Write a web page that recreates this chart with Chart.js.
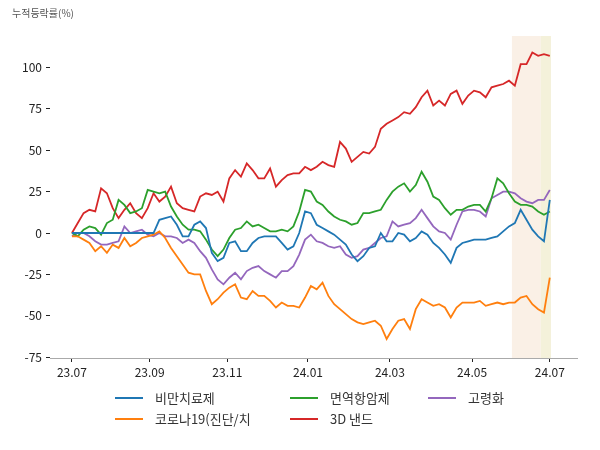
<!DOCTYPE html>
<html>
<head>
<meta charset="utf-8">
<script src="https://cdn.jsdelivr.net/npm/chart.js@4/dist/chart.umd.min.js"></script>
<style>
  body { margin: 0; background: #fff; font-family: "Noto Sans CJK KR", "Noto Sans", sans-serif; }
  #wrap { position: relative; width: 600px; height: 450px; }
  #title { position: absolute; left: 12px; top: 5px; font-size: 10px; color: #555; }
  .leg { position: absolute; font-size: 13px; color: #333; line-height: 16px; white-space: nowrap; }
  .leg i { display: inline-block; width: 28px; height: 2px; vertical-align: middle; margin-right: 12px; position: relative; top: -1px; }
</style>
</head>
<body>
<div id="wrap">
  <canvas id="chart" width="600" height="450"></canvas>
  <div id="title">누적등락률(%)</div>
  <div id="legend"></div>
</div>
<script>
// trading days since 2023-07 start (x axis)
const days = [0,3,6,9,12,15,18,21,24,27,30,33,36,39,42,45,48,51,54,57,60,63,66,69,72,75,78,81,84,87,90,93,96,99,102,105,108,111,114,117,120,123,126,129,132,135,138,141,144,147,150,153,156,159,162,165,168,171,174,177,180,183,186,189,192,195,198,201,204,207,210,213,216,219,222,225,228,231,234,237,240,243,246];

const tickDays = [0, 40, 80, 121.5, 163.7, 206, 246];
const tickLabels = ['23.07', '23.09', '23.11', '24.01', '24.03', '24.05', '24.07'];

const names = ['비만치료제', '코로나19(진단/치', '면역항암제', '3D 낸드', '고령화'];
const colors = ['#1f77b4', '#ff7f0e', '#2ca02c', '#d62728', '#9467bd'];

const obesity = [0,0,0,0,0,0,0,0,0,0,0,0,0,0,0,8,9,10,5,-2,-2,5,7,3,-12,-17,-15,-6,-5,-11,-11,-6,-3,-2,-2,-2,-6,-10,-8,0,13,12,5,3,1,-1,-4,-7,-13,-17,-14,-9,-8,0,-5,-5,0,-1,-5,-3,1,-1,-6,-9,-13,-18,-9,-6,-5,-4,-4,-4,-3,-2,1,4,6,14,8,2,-2,-5,20];
const covid = [-2,-2,-4,-6,-11,-8,-12,-7,-9,-3,-8,-6,-3,-2,-1,1,-3,-9,-14,-19,-24,-25,-25,-35,-43,-40,-36,-33,-31,-39,-40,-35,-38,-38,-41,-45,-42,-44,-44,-45,-39,-32,-34,-30,-38,-43,-46,-49,-52,-54,-55,-54,-53,-56,-64,-58,-53,-52,-58,-46,-40,-42,-44,-43,-45,-51,-45,-42,-42,-42,-41,-44,-43,-42,-43,-42,-42,-39,-38,-43,-46,-48,-27];
const immuno = [0,-2,2,4,3,-1,6,8,20,17,12,13,15,26,25,24,25,16,10,5,2,2,1,-4,-10,-14,-10,-3,2,3,7,4,5,3,1,1,2,1,4,13,26,25,19,17,13,10,8,7,5,6,12,12,13,14,20,25,28,30,25,29,37,31,22,20,15,11,14,14,16,17,17,13,21,33,30,24,19,17,17,16,13,11,13];
const nand = [0,6,12,14,13,27,24,15,9,14,18,12,9,15,24,19,22,28,18,15,14,13,22,24,23,25,19,33,38,34,42,38,33,33,39,28,32,35,36,36,40,38,40,43,41,40,55,51,43,46,49,48,52,63,66,68,70,73,72,76,82,86,77,80,77,84,86,78,83,86,85,82,88,89,90,92,89,102,102,109,107,108,107];
const aging = [-2,0,0,-2,-5,-7,-7,-6,-5,4,0,1,2,-1,-2,0,-2,-2,-3,-6,-4,-6,-11,-15,-22,-28,-31,-27,-24,-28,-23,-21,-20,-23,-25,-27,-23,-23,-20,-13,-4,-1,-5,-6,-8,-9,-8,-13,-15,-14,-10,-9,-6,-3,-2,7,4,5,6,9,14,9,4,1,0,-4,5,13,14,14,13,10,21,23,25,25,24,21,19,18,20,20,26];

const bands = [[226.5, 241.4, '#faf0e6'], [241.4, 246.6, '#f4f1da']];

const values = [obesity, covid, immuno, nand, aging];

const datasets = values.map((vals, i) => ({
  label: names[i],
  data: vals.map((v, j) => ({ x: days[j], y: v })),
  borderColor: colors[i],
  borderWidth: 1.8,
  pointRadius: 0,
  tension: 0,
  fill: false,
}));

const bandPlugin = {
  id: 'bands',
  beforeDatasetsDraw(chart) {
    const { ctx, chartArea, scales: { x } } = chart;
    ctx.save();
    bands.forEach(([a, b, c]) => {
      const x1 = x.getPixelForValue(a);
      const x2 = x.getPixelForValue(b);
      ctx.fillStyle = c;
      ctx.fillRect(x1, chartArea.top, x2 - x1, chartArea.bottom - chartArea.top);
    });
    ctx.restore();
  },
};

const font = { family: '"Noto Sans CJK KR", "Noto Sans", sans-serif', size: 12 };

new Chart(document.getElementById('chart'), {
  type: 'line',
  data: { datasets },
  options: {
    responsive: false,
    animation: false,
    layout: { padding: { top: 36, right: 23, bottom: 62, left: 0 } },
    plugins: { legend: { display: false }, tooltip: { enabled: false } },
    scales: {
      x: {
        type: 'linear',
        min: -11.3,
        max: 260,
        afterFit: (s) => { s.height = 30; },
        afterBuildTicks: (s) => { s.ticks = tickDays.map(v => ({ value: v })); },
        ticks: {
          font, color: '#222', padding: 3, maxRotation: 0, autoSkip: false,
          callback: (v, i) => tickLabels[i],
        },
        grid: { drawOnChartArea: false, drawTicks: true, tickLength: 4, color: '#222' },
        border: { display: true, color: '#aaa', width: 1 },
      },
      y: {
        min: -75.5,
        max: 119,
        afterFit: (s) => { s.width = 50; },
        afterBuildTicks: (s) => { s.ticks = [-75, -50, -25, 0, 25, 50, 75, 100].map(v => ({ value: v })); },
        ticks: { font, color: '#222', padding: 4 },
        grid: { drawOnChartArea: false, drawTicks: true, tickLength: 4, color: '#222' },
        border: { display: false },
      },
    },
  },
  plugins: [bandPlugin],
});

// legend laid out in 3 columns like the original
const legendPos = [[115, 390], [115, 411], [290, 390], [290, 411], [428, 390]];
const legend = document.getElementById('legend');
names.forEach((n, i) => {
  const d = document.createElement('div');
  d.className = 'leg';
  d.style.left = legendPos[i][0] + 'px';
  d.style.top = legendPos[i][1] + 'px';
  d.innerHTML = '<i style="background:' + colors[i] + '"></i>' + n;
  legend.appendChild(d);
});
</script>
</body>
</html>
